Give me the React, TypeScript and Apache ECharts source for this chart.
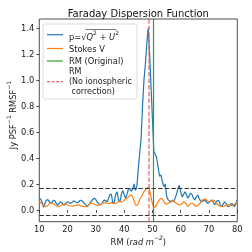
import React, { useEffect, useRef } from "react";
import * as echarts from "echarts";

// Faraday dispersion function sampled every 0.5 rad m^-2 from 10 to 80
const pValues = [
  0.09, 0.085, 0.06, 0.02, 0.05, 0.075, 0.08, 0.065, 0.05, 0.06,
  0.075, 0.07, 0.05, 0.038, 0.05, 0.064, 0.055, 0.04, 0.04, 0.055,
  0.064, 0.058, 0.05, 0.058, 0.068, 0.068, 0.06, 0.056, 0.065, 0.075,
  0.072, 0.06, 0.05, 0.035, 0.028, 0.04, 0.058, 0.07, 0.083, 0.09,
  0.08, 0.06, 0.05, 0.04, 0.045, 0.065, 0.077, 0.07, 0.064, 0.09,
  0.12, 0.12, 0.05, 0.06, 0.12, 0.14, 0.08, 0.06, 0.12, 0.15,
  0.12, 0.09, 0.12, 0.16, 0.165, 0.145, 0.16, 0.2, 0.15, 0.18,
  0.32, 0.44, 0.55, 0.8, 1.0, 1.12, 1.28, 1.4, 1.2, 0.95,
  0.7, 0.45, 0.43, 0.4, 0.33, 0.26, 0.27, 0.22, 0.18, 0.2,
  0.11, 0.08, 0.07, 0.06, 0.075, 0.065, 0.09, 0.12, 0.165, 0.19,
  0.14, 0.1, 0.12, 0.14, 0.12, 0.09, 0.11, 0.13, 0.12, 0.09,
  0.077, 0.1, 0.115, 0.09, 0.07, 0.064, 0.07, 0.077, 0.065, 0.05,
  0.06, 0.07, 0.077, 0.06, 0.04, 0.06, 0.075, 0.07, 0.04, 0.025,
  0.045, 0.064, 0.05, 0.03, 0.025, 0.04, 0.05, 0.04, 0.025, 0.05,
  0.077,
];
const vValues = [
  0.065, 0.055, 0.045, 0.035, 0.03, 0.028, 0.035, 0.045, 0.05, 0.052,
  0.048, 0.04, 0.032, 0.027, 0.026, 0.032, 0.04, 0.045, 0.046, 0.044,
  0.04, 0.035, 0.031, 0.03, 0.031, 0.035, 0.038, 0.039, 0.038, 0.035,
  0.03, 0.027, 0.026, 0.027, 0.033, 0.042, 0.05, 0.053, 0.05, 0.044,
  0.038, 0.035, 0.036, 0.04, 0.047, 0.054, 0.057, 0.055, 0.05, 0.048,
  0.05, 0.055, 0.055, 0.05, 0.05, 0.058, 0.065, 0.066, 0.062, 0.065,
  0.075, 0.085, 0.09, 0.1, 0.11, 0.115, 0.1, 0.07, 0.04, 0.035,
  0.05, 0.08, 0.1, 0.12, 0.14, 0.155, 0.168, 0.175, 0.15, 0.1,
  0.05, 0.02, 0.025, 0.04, 0.06, 0.08, 0.09, 0.085, 0.065, 0.05,
  0.045, 0.05, 0.06, 0.07, 0.075, 0.07, 0.06, 0.05, 0.045, 0.04,
  0.042, 0.05, 0.062, 0.06, 0.045, 0.028, 0.035, 0.05, 0.052, 0.045,
  0.035, 0.028, 0.035, 0.045, 0.055, 0.07, 0.08, 0.085, 0.08, 0.07,
  0.065, 0.066, 0.072, 0.077, 0.07, 0.055, 0.042, 0.035, 0.03, 0.027,
  0.026, 0.03, 0.035, 0.04, 0.04, 0.037, 0.033, 0.035, 0.045, 0.055,
  0.063,
];
const rmStart = 10;
const rmStep = 0.5;
const rmOriginal = 50.4;
const rmNoIono = 48.8;
const thresholds = [0.172, -0.038];
const yTicks = [0, 0.2, 0.4, 0.6, 0.8, 1.0, 1.2, 1.4];

const FONT = "DejaVu Sans";

export default function App() {
  const ref = useRef<HTMLDivElement>(null);
  useEffect(() => {
    if (!ref.current) return;
    const chart = echarts.init(ref.current, undefined, { renderer: "svg" });
    const pData = pValues.map((v, i) => [rmStart + i * rmStep, v]);
    const vData = vValues.map((v, i) => [rmStart + i * rmStep, v]);
    const gl = 39.3, gt = 19, gr = 237.3, gb = 221.7;
    const cx = (gl + gr) / 2;
    const fs = 8.3;
    const rich = {
      n: { fontFamily: FONT, fontSize: fs, fill: "#222", lineHeight: 12, verticalAlign: "bottom" },
      i: { fontFamily: FONT, fontSize: fs, fill: "#222", fontStyle: "italic", lineHeight: 12, verticalAlign: "bottom" },
      s: { fontFamily: FONT, fontSize: 6, fill: "#222", verticalAlign: "top" },
      si: { fontFamily: FONT, fontSize: 6, fill: "#222", fontStyle: "italic", verticalAlign: "top" },
    };
    chart.setOption({
      animation: false,
      textStyle: { fontFamily: FONT },
      grid: {
        left: gl, top: gt, width: gr - gl, height: gb - gt,
        show: true, borderColor: "#222", borderWidth: 0.8,
        outerBoundsMode: "none", containLabel: false,
      },
      xAxis: {
        type: "value", min: 10, max: 80, interval: 10,
        axisLine: { show: false },
        axisTick: { show: true, inside: false, length: 3, lineStyle: { color: "#222", width: 0.8 } },
        axisLabel: { fontFamily: FONT, fontSize: fs, color: "#222", margin: 3 },
        splitLine: { show: false },
      },
      yAxis: {
        type: "value", min: -0.09, max: 1.469,
        axisLine: { show: false },
        axisTick: { show: true, inside: false, length: 3, customValues: yTicks, lineStyle: { color: "#222", width: 0.8 } },
        axisLabel: {
          fontFamily: FONT, fontSize: fs, color: "#222", margin: 5,
          customValues: yTicks,
          formatter: (v: number) => v.toFixed(1),
        },
        splitLine: { show: false },
      },
      series: [
        {
          type: "line", name: "p", data: pData, showSymbol: false,
          lineStyle: { color: "#1f77b4", width: 1.2 }, z: 2, silent: true,
        },
        {
          type: "line", name: "Stokes V", data: vData, showSymbol: false, smooth: 0.3,
          lineStyle: { color: "#ff7f0e", width: 1.2 }, z: 3, silent: true,
          markLine: {
            silent: true, symbol: "none", label: { show: false },
            data: [
              { xAxis: rmOriginal, lineStyle: { color: "#2ca02c", width: 1.2, type: "solid" } },
              { xAxis: rmNoIono, lineStyle: { color: "#e06060", width: 1.5, type: [4.6, 2], opacity: 0.8 } },
              ...thresholds.map((t) => ({
                yAxis: t, lineStyle: { color: "#333", width: 1.2, type: [4.6, 2] },
              })),
            ],
          },
        },
      ],
      graphic: [
        {
          type: "text", x: cx, y: 13, z: 100,
          style: { text: "Faraday Dispersion Function", fontFamily: FONT, fontSize: 10, fill: "#111", align: "center", verticalAlign: "middle" },
        },
        {
          type: "text", x: 11, y: 115, rotation: Math.PI / 2, z: 100,
          style: {
            text: "{n|Jy PSF}{s|−1}{n| RMSF}{s|−1}",
            align: "center", verticalAlign: "middle", rich,
          },
        },
        {
          type: "text", x: cx, y: 240, z: 100,
          style: {
            text: "{n|RM (}{i|rad m}{si|−2}{n|)}",
            align: "center", verticalAlign: "middle", rich,
          },
        },
        {
          type: "rect", z: 100,
          shape: { x: 43, y: 24, width: 94, height: 75, r: 2 },
          style: { fill: "rgba(255,255,255,0.8)", stroke: "#d0d0d0", lineWidth: 0.8 },
        },
        { type: "line", z: 101, shape: { x1: 47, y1: 34.7, x2: 63, y2: 34.7 }, style: { stroke: "#1f77b4", lineWidth: 1.2 } },
        { type: "line", z: 101, shape: { x1: 47, y1: 48.5, x2: 63, y2: 48.5 }, style: { stroke: "#ff7f0e", lineWidth: 1.2 } },
        { type: "line", z: 101, shape: { x1: 47, y1: 61, x2: 63, y2: 61 }, style: { stroke: "#2ca02c", lineWidth: 1.2 } },
        { type: "line", z: 101, shape: { x1: 47, y1: 81.7, x2: 63, y2: 81.7 }, style: { stroke: "#e06060", lineWidth: 1.2, lineDash: [3, 1.5], opacity: 0.9 } },
        {
          type: "text", x: 69, y: 35, z: 101,
          style: {
            text: "{n|p=√}{i|Q}{s|2}{n| + }{i|U}{s|2}",
            verticalAlign: "middle", rich,
          },
        },
        { type: "line", z: 101, shape: { x1: 85.5, y1: 29.5, x2: 116, y2: 29.5 }, style: { stroke: "#222", lineWidth: 0.6 } },
        {
          type: "text", x: 69, y: 48.5, z: 101,
          style: { text: "Stokes V", fontFamily: FONT, fontSize: fs, fill: "#222", verticalAlign: "middle" },
        },
        {
          type: "text", x: 69, y: 61, z: 101,
          style: { text: "RM (Original)", fontFamily: FONT, fontSize: fs, fill: "#222", verticalAlign: "middle" },
        },
        {
          type: "text", x: 69, y: 81.5, z: 101,
          style: { text: "RM\n(No ionospheric\n correction)", fontFamily: FONT, fontSize: 8, lineHeight: 9.8, fill: "#222", verticalAlign: "middle" },
        },
      ],
    });
    return () => chart.dispose();
  }, []);
  return <div ref={ref} style={{ position: "fixed", left: 0, top: 0, width: 252, height: 252 }} />;
}
